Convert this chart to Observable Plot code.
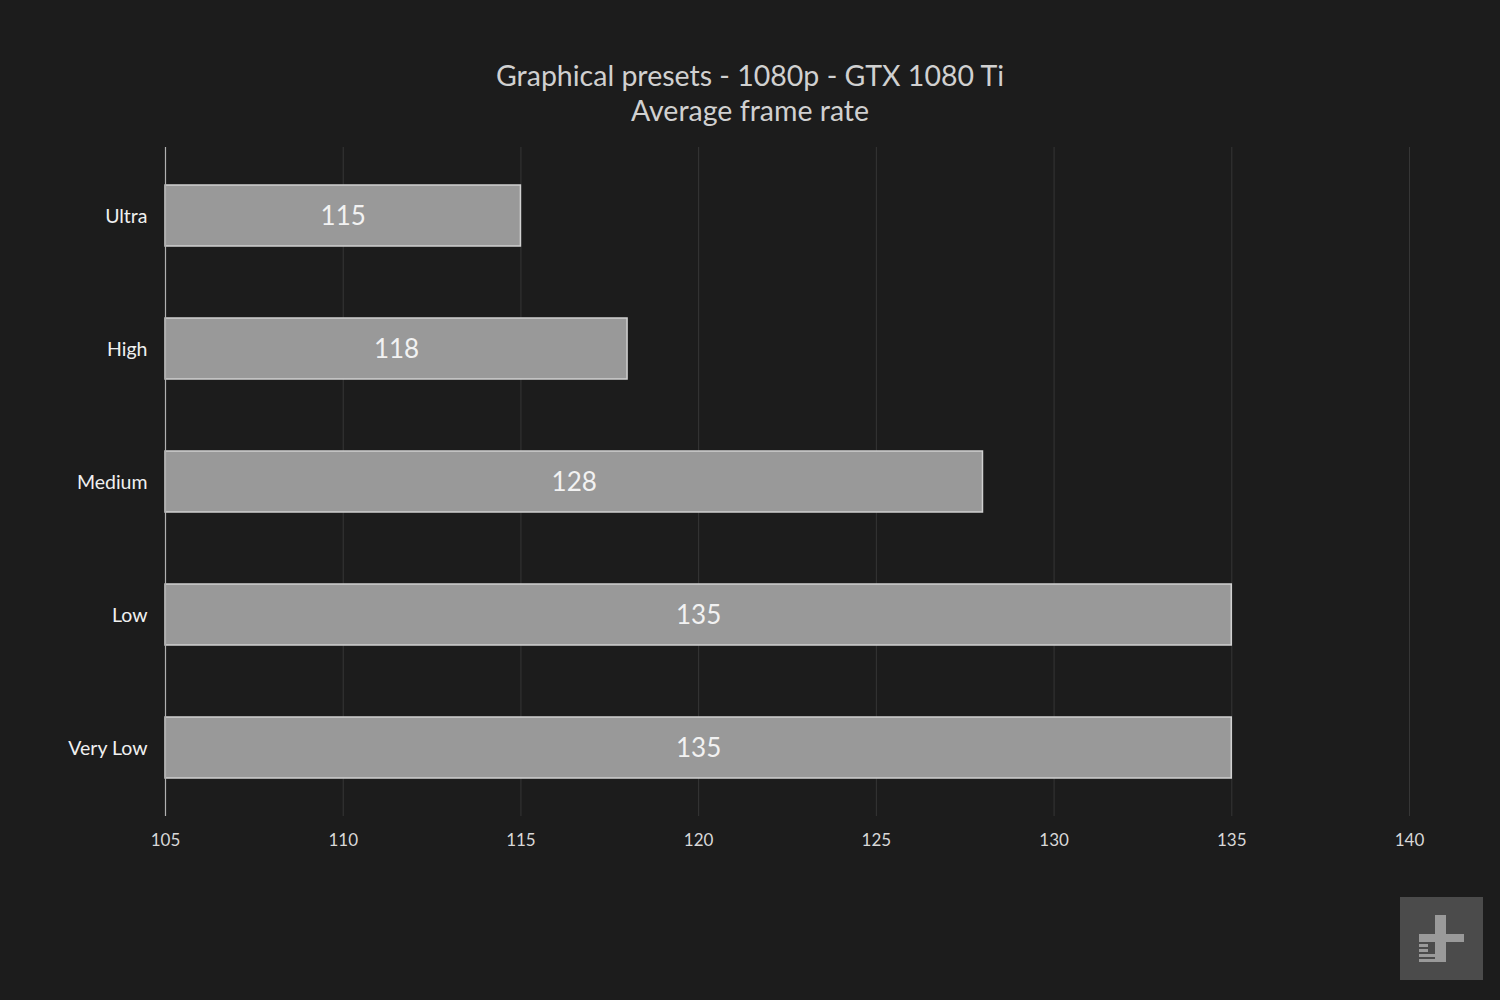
<!DOCTYPE html>
<html>
<head>
<meta charset="utf-8">
<script src="https://cdn.jsdelivr.net/npm/d3@7"></script>
<script src="https://cdn.jsdelivr.net/npm/@observablehq/plot@0.6"></script>
<style>
  html, body { margin: 0; padding: 0; background: #1c1c1c; }
  body { width: 1500px; height: 1000px; position: relative; overflow: hidden; font-family: Lato, "Open Sans", sans-serif; }
  #header { height: 140px; box-sizing: border-box; padding-top: 58px; text-align: center; color: #d0d0d0; font-size: 28.5px; line-height: 35px; }
  #chart svg { display: block; }
  #logo { position: absolute; left: 1400px; top: 897px; }
</style>
</head>
<body>
<div id="header">
  <div>Graphical presets - 1080p - GTX 1080 Ti</div>
  <div>Average frame rate</div>
</div>
<div id="chart"></div>
<svg id="logo" width="83" height="83" viewBox="0 0 83 83">
  <rect x="0" y="0" width="83" height="83" fill="#4b4b4b"/>
  <rect x="35" y="18" width="11" height="47" fill="#9a9a9a"/>
  <rect x="19" y="37" width="45" height="8" fill="#9a9a9a"/>
  <rect x="19" y="47" width="9" height="3" fill="#9a9a9a"/>
  <rect x="19" y="52" width="9" height="3" fill="#9a9a9a"/>
  <rect x="19" y="57" width="16" height="3" fill="#9a9a9a"/>
  <rect x="19" y="62" width="16" height="3" fill="#9a9a9a"/>
</svg>
<script>
const presets = ["Ultra", "High", "Medium", "Low", "Very Low"];
const fps = [115, 118, 128, 135, 135];
const xTicks = [105, 110, 115, 120, 125, 130, 135, 140];
const xDomain = [105, 140];

const data = presets.map((p, i) => ({preset: p, fps: fps[i]}));

const chart = Plot.plot({
  width: 1500,
  height: 720,
  marginLeft: 165,
  marginRight: 91,
  marginTop: 7,
  marginBottom: 44,
  style: {background: "#1c1c1c", fontFamily: "Lato, 'Open Sans', sans-serif"},
  x: {domain: xDomain, ticks: xTicks, label: null},
  y: {domain: presets, paddingInner: 0.543, paddingOuter: 0.27, label: null},
  marks: [
    Plot.ruleX(xTicks.slice(1), {stroke: "#363636", strokeWidth: 1}),
    Plot.axisX({ticks: xTicks, tickSize: 0, tickPadding: 17, fontSize: 17, fill: "#d8d8d8", tickFormat: d => String(d), label: null}),
    Plot.axisY({tickSize: 0, tickPadding: 18, fontSize: 19.5, fill: "#f0f0f0", label: null, dy: 1}),
    Plot.barX(data, {y: "preset", x1: () => xDomain[0], x2: "fps", fill: "#999999", stroke: "#d0d0d0", strokeWidth: 1.5}),
    Plot.ruleX([xDomain[0]], {stroke: "#b0b0b0", strokeWidth: 1.2}),
    Plot.text(data, {y: "preset", x: d => (xDomain[0] + d.fps) / 2, text: d => String(d.fps), fill: "#f2f2f2", fontSize: 26, dy: 1})
  ]
});
document.getElementById("chart").appendChild(chart);
</script>
</body>
</html>
